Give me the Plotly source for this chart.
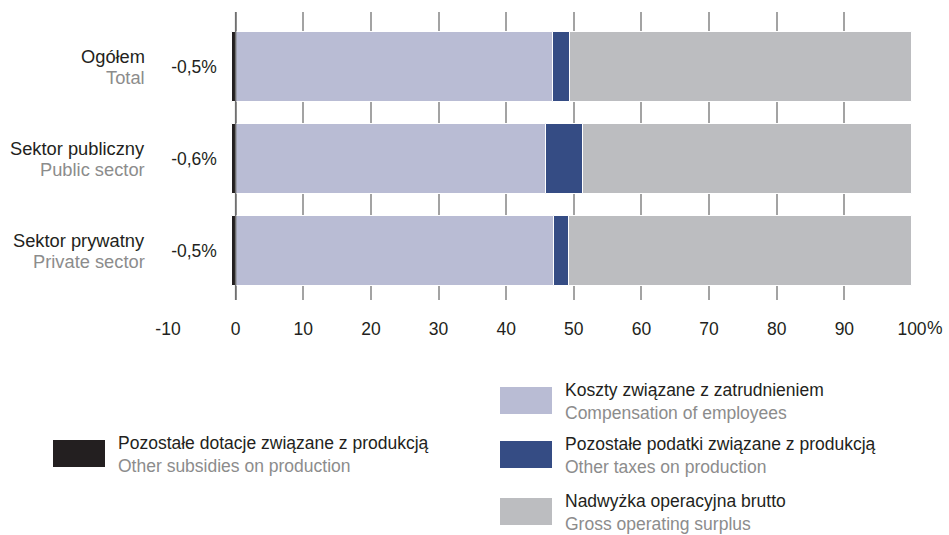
import plotly.graph_objects as go

# ---- data ----
cat_pl = ["Ogółem", "Sektor publiczny", "Sektor prywatny"]
cat_en = ["Total", "Public sector", "Private sector"]
subsidies = [-0.5, -0.6, -0.5]
compensation = [46.9, 45.9, 47.1]
taxes = [2.5, 5.4, 2.2]
surplus = [50.6, 48.7, 50.7]
subsidy_labels = ["-0,5%", "-0,6%", "-0,5%"]
tick_vals = [-10, 0, 10, 20, 30, 40, 50, 60, 70, 80, 90, 100]
tick_text = ["-10", "0", "10", "20", "30", "40", "50", "60", "70", "80", "90", "100"]
unit_label = "%"

series_pl = ["Pozostałe dotacje związane z produkcją", "Koszty związane z zatrudnieniem",
             "Pozostałe podatki związane z produkcją", "Nadwyżka operacyjna brutto"]
series_en = ["Other subsidies on production", "Compensation of employees",
             "Other taxes on production", "Gross operating surplus"]
colors = ["#231f20", "#b9bcd4", "#354c84", "#bcbdc0"]

DARK = "#231f20"
GREY = "#8c8c8c"
FONT = "Liberation Sans, Arial, sans-serif"
FS = 17.5
FS_CAT = 18.3

W, H = 949, 535
L, R, T, B = 168, 37, 12, 235
pw, ph = W - L - R, H - T - B

def px_x(p):
    return (p - L) / pw

def px_y(p):
    return (H - B - p) / ph

ypos = list(range(len(cat_pl)))

fig = go.Figure()
for vals, name, col in zip([subsidies, compensation, taxes, surplus], series_en, colors):
    fig.add_trace(go.Bar(
        y=ypos, x=vals, orientation="h", name=name, width=0.76,
        marker=dict(color=col, line=dict(color="white", width=1)),
        showlegend=False, hoverinfo="x+name",
    ))

annotations = []
for i in range(len(cat_pl)):
    for txt, col, shift in ((cat_pl[i], DARK, 10.5), (cat_en[i], GREY, -10.5)):
        annotations.append(dict(
            x=px_x(147), xref="paper", y=ypos[i], yref="y", xanchor="right", yanchor="middle",
            yshift=shift, showarrow=False, text=txt,
            font=dict(family=FONT, size=FS_CAT, color=col),
        ))
    annotations.append(dict(
        x=-6.1, xref="x", y=ypos[i], yref="y", xanchor="center", yanchor="middle",
        showarrow=False, text=subsidy_labels[i], bgcolor="white", width=54, height=40,
        font=dict(family=FONT, size=FS, color=DARK),
    ))

# "%" unit after the last tick label
annotations.append(dict(
    x=tick_vals[-1], xref="x", y=px_y(328), yref="paper", xanchor="left", yanchor="middle",
    xshift=13, showarrow=False, text=unit_label,
    font=dict(family=FONT, size=FS, color=DARK),
))

# legend (manual)
legend_boxes = [  # x0, y0(top) in pixels
    (53, 440), (500, 387), (500, 441), (500, 498)
]
shapes = []
for (x0, y0), name_pl, name_en, col in zip(legend_boxes, series_pl, series_en, colors):
    shapes.append(dict(type="rect", xref="paper", yref="paper",
                       x0=px_x(x0), x1=px_x(x0 + 52), y0=px_y(y0 + 27), y1=px_y(y0),
                       fillcolor=col, line=dict(width=0)))
    annotations.append(dict(
        x=px_x(x0 + 63), xref="paper", y=px_y(y0 + 14), yref="paper",
        xanchor="left", yanchor="middle", align="left", showarrow=False,
        text=f"{name_pl}<br><span style='color:{GREY}'>{name_en}</span>",
        font=dict(family=FONT, size=FS, color=DARK),
    ))

shapes.append(dict(type="line", xref="x", yref="paper", x0=0, x1=0, y0=0, y1=1,
                   line=dict(color="#6f6f6f", width=1.5), layer="above"))

fig.update_layout(
    width=W, height=H, margin=dict(l=L, r=R, t=T, b=B),
    paper_bgcolor="white", plot_bgcolor="white",
    barmode="relative", bargap=0,
    annotations=annotations, shapes=shapes,
    font=dict(family=FONT, size=FS, color=DARK),
    xaxis=dict(range=[-10, 100], tickvals=tick_vals, ticktext=tick_text,
               showgrid=True, gridcolor="#a3a3a3", gridwidth=1.5, zeroline=False,
               showline=False, ticks="", ticklabelstandoff=16,
               tickfont=dict(family=FONT, size=FS, color=DARK)),
    yaxis=dict(range=[2.53, -0.6], showticklabels=False, showgrid=False,
               zeroline=False, showline=False),
)

fig.write_html("out.html", post_script="document.body.style.margin='0';",
               config={"displayModeBar": False})
